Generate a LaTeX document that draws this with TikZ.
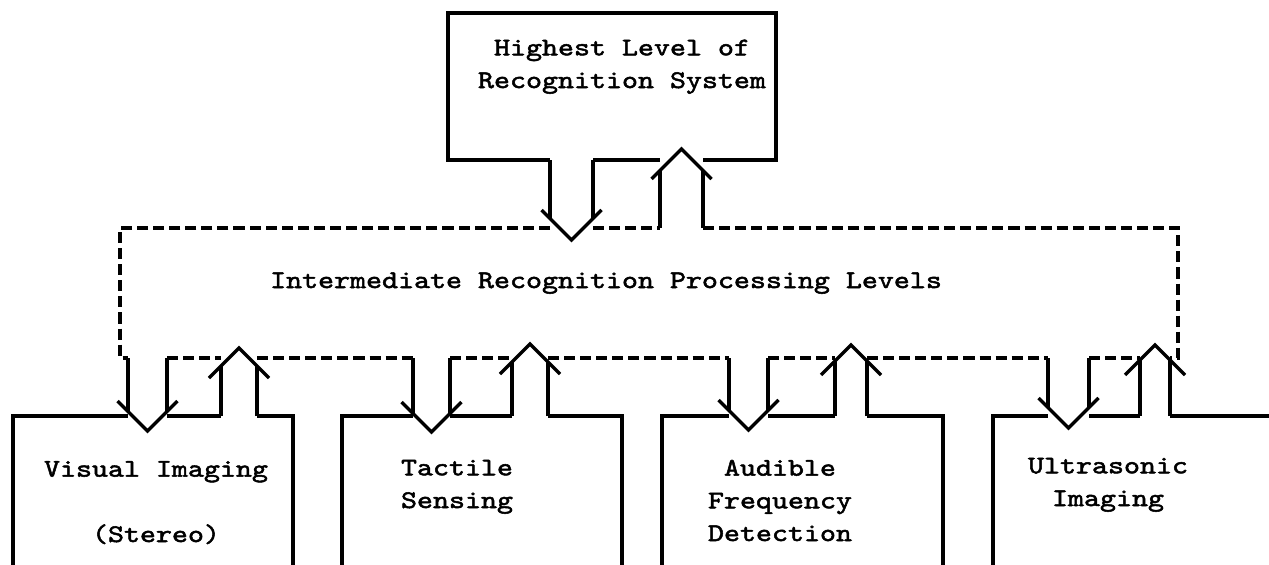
\documentclass[tikz,border=0pt]{standalone}
\usepackage{fontspec}
\usetikzlibrary{calc}
\newfontfamily\typewriter{lmmono10-regular.otf}[FakeStretch=1.2,FakeBold=2]

\tikzset{
  outline/.style={line width=1.9pt},
  dashline/.style={line width=1.9pt, dash pattern=on 6.3pt off 2.85pt},
  boxlabel/.style={font=\typewriter\fontsize{14.45}{18.6}\selectfont,
    align=center, inner sep=0pt, anchor=base}
}

% Hollow channel arrow pointing down: source point, tip, half width of the shaft
\newcommand\chandown[3]{%
  \draw[outline] ($(#1)+(-#3,0)$) -- ($(#2)+(-#3,-#3)$);
  \draw[outline] ($(#1)+(#3,0)$) -- ($(#2)+(#3,-#3)$);
  \draw[outline] ($(#2)+(-30,-30)$) -- (#2) -- ($(#2)+(30,-30)$);
}
% Hollow channel arrow pointing up
\newcommand\chanup[3]{%
  \draw[outline] ($(#1)+(-#3,0)$) -- ($(#2)+(-#3,#3)$);
  \draw[outline] ($(#1)+(#3,0)$) -- ($(#2)+(#3,#3)$);
  \draw[outline] ($(#2)+(-30,30)$) -- (#2) -- ($(#2)+(30,30)$);
}

\begin{document}
\begin{tikzpicture}[x=0.02cm, y=-0.02cm]
\useasboundingbox (0,0) rectangle (1269,565);

% ---- labels (anchored at the baseline of their last line) ----
\node[boxlabel] (top) at (622,88) {Highest Level of\\Recognition System};
\node[boxlabel] (mid) at (606,288) {Intermediate Recognition Processing Levels};
\node[boxlabel] (vis) at (156,542) {Visual Imaging\\[18.6pt](Stereo)};
\node[boxlabel] (tac) at (457,508) {Tactile\\Sensing};
\node[boxlabel] (aud) at (780,541) {Audible\\Frequency\\Detection};
\node[boxlabel] (ult) at (1108,506) {Ultrasonic\\Imaging};

% ---- highest level box ----
\draw[outline] (550,160) -- (448,160) -- (448,13) -- (776,13) -- (776,160) -- (703,160);
\draw[outline] (593,160) -- (660,160);

% ---- intermediate levels (dashed) ----
\draw[dashline] (550,228) -- (120,228) -- (120,358) -- (128,358);
\draw[dashline] (593,228) -- (660,228);
\draw[dashline] (703,228) -- (1178,228) -- (1178,358) -- (1170,358);
\draw[dashline] (167,358) -- (221,358);
\draw[dashline] (257,358) -- (413,358);
\draw[dashline] (450,358) -- (512,358);
\draw[dashline] (548,358) -- (729,358);
\draw[dashline] (768,358) -- (835,358);
\draw[dashline] (867,358) -- (1048,358);
\draw[dashline] (1089,358) -- (1140,358);

% ---- sensor boxes (open at the bottom) ----
\draw[outline] (13,565) -- (13,416) -- (128,416);
\draw[outline] (167,416) -- (221,416);
\draw[outline] (257,416) -- (293,416) -- (293,565);

\draw[outline] (342,565) -- (342,416) -- (413,416);
\draw[outline] (450,416) -- (512,416);
\draw[outline] (548,416) -- (622,416) -- (622,565);

\draw[outline] (662,565) -- (662,416) -- (729,416);
\draw[outline] (768,416) -- (835,416);
\draw[outline] (867,416) -- (943,416) -- (943,565);

\draw[outline] (993,565) -- (993,416) -- (1048,416);
\draw[outline] (1089,416) -- (1140,416);
\draw[outline] (1170,416) -- (1269,416);

% ---- channel end points ----
\coordinate (topOut)  at (571.5,160);  \coordinate (topDown) at (571.5,240);
\coordinate (topIn)   at (681.5,228);  \coordinate (topUp)   at (681.5,149);

\coordinate (visIn)   at (147.5,358);  \coordinate (visDown) at (147.5,431);
\coordinate (visOut)  at (239,416);    \coordinate (visUp)   at (239,348);
\coordinate (tacIn)   at (431.5,358);  \coordinate (tacDown) at (431.5,432);
\coordinate (tacOut)  at (530,416);    \coordinate (tacUp)   at (530,344);
\coordinate (audIn)   at (748.5,358);  \coordinate (audDown) at (748.5,430);
\coordinate (audOut)  at (851,416);    \coordinate (audUp)   at (851,345);
\coordinate (ultIn)   at (1068.5,358); \coordinate (ultDown) at (1068.5,428);
\coordinate (ultOut)  at (1155,416);   \coordinate (ultUp)   at (1155,345);

% ---- channels ----
\chandown{topOut}{topDown}{21.5}
\chanup{topIn}{topUp}{21.5}
\chandown{visIn}{visDown}{19.5}
\chanup{visOut}{visUp}{18}
\chandown{tacIn}{tacDown}{18.5}
\chanup{tacOut}{tacUp}{18}
\chandown{audIn}{audDown}{19.5}
\chanup{audOut}{audUp}{16}
\chandown{ultIn}{ultDown}{20.5}
\chanup{ultOut}{ultUp}{15}
\end{tikzpicture}
\end{document}
